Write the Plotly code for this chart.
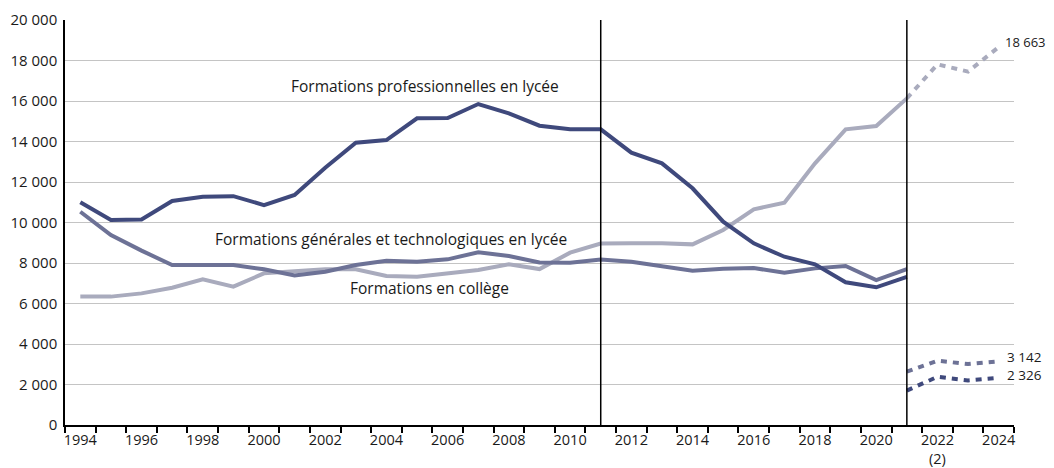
import plotly.graph_objects as go

years = list(range(1994, 2022))
pro_lycee = [11000, 10120, 10150, 11060, 11270, 11300, 10860, 11360, 12700, 13940, 14070,
             15145, 15160, 15850, 15390, 14780, 14600, 14600, 13450, 12920, 11690, 10040,
             8970, 8310, 7935, 7050, 6800, 7320]
gt_lycee = [10530, 9380, 8610, 7900, 7900, 7900, 7690, 7380, 7570, 7900, 8110,
            8065, 8180, 8530, 8345, 8030, 8015, 8170, 8065, 7820, 7620, 7720,
            7750, 7520, 7735, 7850, 7160, 7700]
college = [6340, 6340, 6500, 6780, 7190, 6830, 7490, 7570, 7690, 7690, 7360,
           7325, 7490, 7650, 7935, 7700, 8510, 8960, 8970, 8970, 8920, 9630,
           10650, 10980, 12920, 14600, 14765, 16130]

proj_years = [2021, 2022, 2023, 2024]
proj_college = [16130, 17810, 17450, 18663]
proj_gt = [2630, 3175, 3010, 3142]
proj_pro = [1700, 2380, 2200, 2326]

tick_years = list(range(1994, 2025, 2))
tick_labels = [str(y) if y != 2022 else "2022<br>(2)" for y in tick_years]
y_ticks = list(range(0, 20001, 2000))

c_dark = "#3f497c"
c_mid = "#6d7296"
c_light = "#a9abbd"

fig = go.Figure()
lw = 4
fig.add_trace(go.Scatter(x=years, y=college, mode="lines", line=dict(color=c_light, width=lw)))
fig.add_trace(go.Scatter(x=years, y=gt_lycee, mode="lines", line=dict(color=c_mid, width=lw)))
fig.add_trace(go.Scatter(x=years, y=pro_lycee, mode="lines", line=dict(color=c_dark, width=lw)))
fig.add_trace(go.Scatter(x=proj_years, y=proj_college, mode="lines",
                         line=dict(color=c_light, width=lw, dash="6px,6px")))
fig.add_trace(go.Scatter(x=proj_years, y=proj_gt, mode="lines",
                         line=dict(color=c_mid, width=lw, dash="6px,6px")))
fig.add_trace(go.Scatter(x=proj_years, y=proj_pro, mode="lines",
                         line=dict(color=c_dark, width=lw, dash="6px,6px")))

for yr in (2011, 2021):
    fig.add_shape(type="line", xref="x", yref="paper", x0=yr, x1=yr, y0=0, y1=1,
                  line=dict(color="black", width=1.5))

font_fam = "Open Sans, Lato, sans-serif"
txt = "#1a1a1a"
fig.add_annotation(x=2005.25, y=16740, text="Formations professionnelles en lycée",
                   showarrow=False, font=dict(size=15.5, color=txt))
fig.add_annotation(x=2004.14, y=9185, text="Formations générales et technologiques en lycée",
                   showarrow=False, font=dict(size=15.5, color=txt))
fig.add_annotation(x=2005.4, y=6750, text="Formations en collège",
                   showarrow=False, font=dict(size=15.5, color=txt))
fig.add_annotation(x=2024.15, y=18900, text="18 663", showarrow=False, xanchor="left",
                   font=dict(size=13, color=txt))
fig.add_annotation(x=2024.2, y=3380, text="3 142", showarrow=False, xanchor="left",
                   font=dict(size=13.5, color=txt))
fig.add_annotation(x=2024.2, y=2470, text="2 326", showarrow=False, xanchor="left",
                   font=dict(size=13.5, color=txt))

fig.update_layout(
    width=1046, height=460,
    margin=dict(l=57, r=40, t=12, b=43),
    paper_bgcolor="white", plot_bgcolor="white",
    showlegend=False,
    separators=", ",
    font=dict(family=font_fam, size=15, color=txt),
    xaxis=dict(range=[1993.5, 2024.5], tickmode="array", tickvals=tick_years,
               ticktext=tick_labels, ticks="", showgrid=False, zeroline=False,
               showline=True, linecolor="black", linewidth=2, ticklabelstandoff=1,
               automargin=False,
               minor=dict(tickmode="linear", tick0=1993.5, dtick=1, ticks="outside",
                          ticklen=6, tickcolor="black", tickwidth=1.5, showgrid=False),
               tickfont=dict(size=14.5)),
    yaxis=dict(range=[0, 20000], tickmode="array", tickvals=y_ticks, showgrid=True,
               gridcolor="#c4c4c4", gridwidth=1.2, zeroline=False, showline=True,
               linecolor="black", linewidth=1.5, ticks="", tickformat=",d",
               automargin=False, ticklabelstandoff=3, tickfont=dict(size=15)),
)

fig.write_html("out.html")
